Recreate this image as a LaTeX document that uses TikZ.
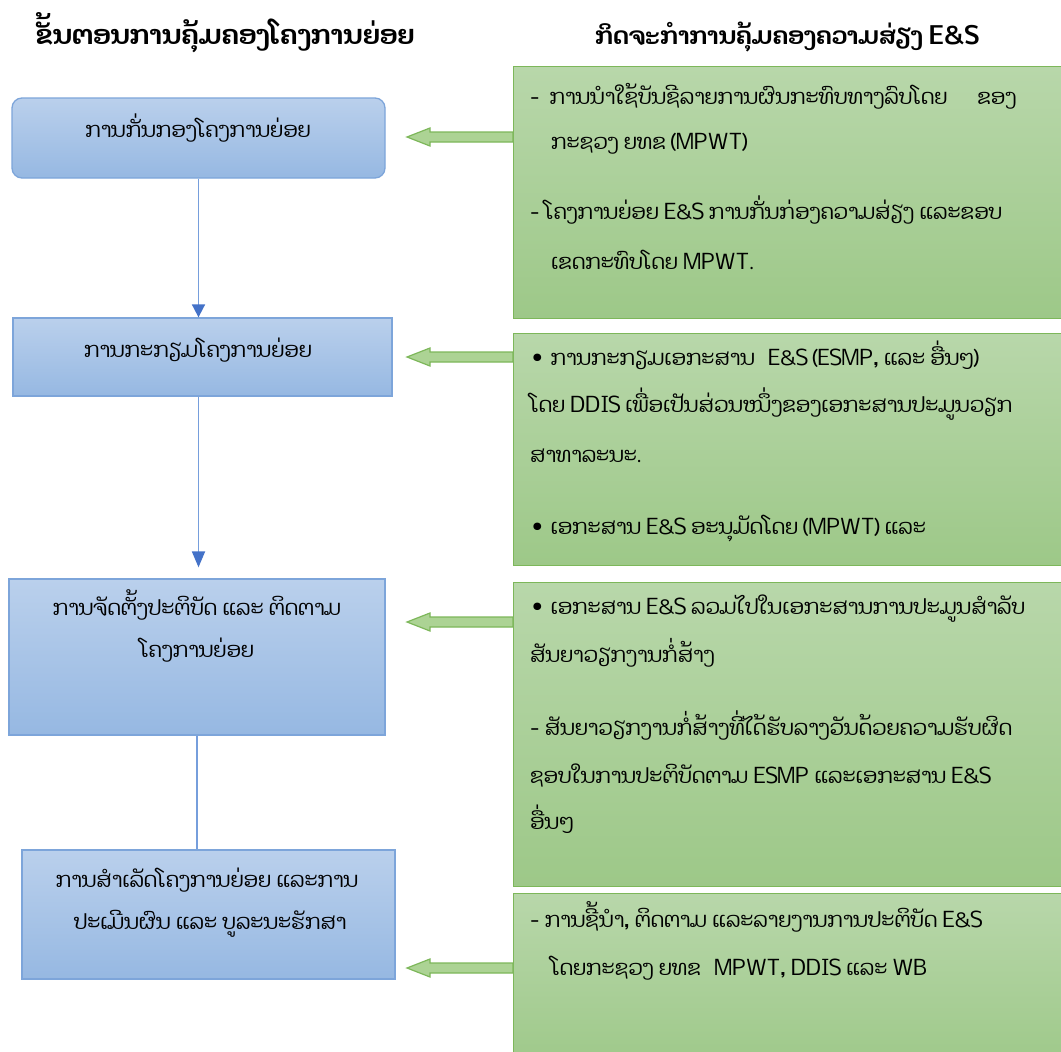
\documentclass[tikz,border=0pt]{standalone}
\usepackage{fontspec}
\newfontfamily\laofont[Script=Lao]{Dhyana}
\usetikzlibrary{arrows.meta,calc}
\definecolor{bluetop}{RGB}{186,208,236}
\definecolor{bluebot}{RGB}{150,184,226}
\definecolor{bluebd}{RGB}{125,165,218}
\definecolor{greentop}{RGB}{184,215,170}
\definecolor{greenbot}{RGB}{157,200,136}
\definecolor{greenbd}{RGB}{125,183,90}
\definecolor{arrfill}{RGB}{172,211,148}
\definecolor{linkblue}{RGB}{118,158,220}
\definecolor{tipblue}{RGB}{68,114,200}
\tikzset{
  bluebox/.style={draw=bluebd, line width=1.3pt, top color=bluetop, bottom color=bluebot, inner sep=0pt},
  greenbox/.style={draw=greenbd, line width=1.3pt, top color=greentop, bottom color=greenbot},
  body/.style={inner sep=0pt, font=\laofont\fontsize{21}{47}\selectfont},
  headtxt/.style={inner sep=0pt, font=\laofont\bfseries\fontsize{25}{30}\selectfont},
  link/.style={draw=linkblue, line width=1.8pt},
  garrow/.style={draw=greenbd, fill=arrfill, line width=1.2pt, line join=miter},
}
\begin{document}
\begin{tikzpicture}[x=1pt,y=-1pt]
\useasboundingbox (0,0) rectangle (1061,1052);
\fill[white] (0,0) rectangle (1061,1052);
% headers
\node[headtxt, anchor=base west, font=\laofont\bfseries\fontsize{26.5}{30}\selectfont] (h1) at (35,45) {ຂັ້ນຕອນການຄຸ້ມຄອງໂຄງການຍ່ອຍ};
\node[headtxt, anchor=base west, font=\laofont\bfseries\fontsize{24}{30}\selectfont] (h2) at (595,45) {ກິດຈະກໍາການຄຸ້ມຄອງຄວາມສ່ຽງ E\&S};
% blue boxes
\node[bluebox, rounded corners=10pt, minimum width=373pt, minimum height=80pt] (b1) at (198.5,138) {};
\node[bluebox, minimum width=379pt, minimum height=78pt] (b2) at (202.5,357) {};
\node[bluebox, minimum width=376pt, minimum height=156pt] (b3) at (197,657) {};
\node[bluebox, minimum width=373pt, minimum height=129pt] (b4) at (208.5,914.5) {};
\node[body, anchor=base] (t1) at (198,137) {ການກັ່ນກອງໂຄງການຍ່ອຍ};
\node[body, anchor=base] (t2) at (198,357) {ການກະກຽມໂຄງການຍ່ອຍ};
\node[body, anchor=base] (t3a) at (197,615) {ການຈັດຕັ້ງປະຕິບັດ ແລະ ຕິດຕາມ};
\node[body, anchor=base] (t3b) at (197,657) {ໂຄງການຍ່ອຍ};
\node[body, anchor=base] (t4a) at (207,887) {ການສໍາເລັດໂຄງການຍ່ອຍ ແລະການ};
\node[body, anchor=base] (t4b) at (210,929) {ປະເມີນຜົນ ແລະ ບູລະນະຮັກສາ};
% connectors
\draw[link, -{Triangle[width=13pt,length=13pt,fill=tipblue,color=tipblue]}] (b1.south) -- (b1.south |- b2.north);
\draw[link, -{Triangle[width=13pt,length=16pt,fill=tipblue,color=tipblue]}, shorten >=11pt] (b2.south -| b1.south) -- (b1.south |- b3.north);
\draw[link] (b3.south) -- (b3.south |- b4.north);
% green boxes
\node[greenbox, anchor=north west, minimum width=560pt, minimum height=252pt] (g1) at (513,66) {};
\node[greenbox, anchor=north west, minimum width=560pt, minimum height=232pt] (g2) at (513,333) {};
\node[greenbox, anchor=north west, minimum width=560pt, minimum height=304pt] (g3) at (513,582) {};
\node[greenbox, anchor=north west, minimum width=560pt, minimum height=180pt] (g4) at (513,893) {};
% green arrows
\foreach \g/\yy in {g1/137, g2/357, g3/622, g4/968}{
  \draw[garrow] (\g.west |- 0,\yy) ++(0,-5) -- ++(-83,0) -- ++(0,-4) -- ++(-23,9) -- ++(23,9) -- ++(0,-4) -- ++(83,0) -- cycle;
}
% green text
\node[body, anchor=base west] (g1a) at (530,104) {-\hspace{10pt}ການນໍາໃຊ້ບັນຊີລາຍການຜົນກະທົບທາງລົບໂດຍ\hspace{30pt}ຂອງ};
\node[body, anchor=base west] (g1b) at (551,149) {ກະຊວງ ຍທຂ (MPWT)};
\node[body, anchor=base west] (g1c) at (530,219) {- ໂຄງການຍ່ອຍ E\&S ການກັ່ນກ່ອງຄວາມສ່ຽງ ແລະຂອບ};
\node[body, anchor=base west] (g1d) at (551,269) {ເຂດກະທົບໂດຍ MPWT.};
\node[body, anchor=base west] (g2a) at (530,365) {• ການກະກຽມເອກະສານ\hspace{8pt} E\&S (ESMP, ແລະ ອື່ນໆ)};
\node[body, anchor=base west] (g2b) at (530,412) {ໂດຍ DDIS ເພື່ອເປັນສ່ວນໜຶ່ງຂອງເອກະສານປະມູນວຽກ};
\node[body, anchor=base west] (g2c) at (530,462) {ສາທາລະນະ.};
\node[body, anchor=base west] (g2d) at (530,534) {• ເອກະສານ E\&S ອະນຸມັດໂດຍ (MPWT) ແລະ};
\node[body, anchor=base west] (g3a) at (530,614) {• ເອກະສານ E\&S ລວມໄປໃນເອກະສານການປະມູນສໍາລັບ};
\node[body, anchor=base west] (g3b) at (530,662) {ສັນຍາວຽກງານກໍ່ສ້າງ};
\node[body, anchor=base west] (g3c) at (530,735) {- ສັນຍາວຽກງານກໍ່ສ້າງທີ່ໄດ້ຮັບລາງວັນດ້ວຍຄວາມຮັບຜິດ};
\node[body, anchor=base west] (g3d) at (530,783) {ຊອບໃນການປະຕິບັດຕາມ ESMP ແລະເອກະສານ E\&S};
\node[body, anchor=base west] (g3e) at (530,829) {ອື່ນໆ};
\node[body, anchor=base west] (g4a) at (530,927) {- ການຊີ້ນໍາ, ຕິດຕາມ ແລະລາຍງານການປະຕິບັດ E\&S};
\node[body, anchor=base west] (g4b) at (551,975) {ໂດຍກະຊວງ ຍທຂ\hspace{8pt} MPWT, DDIS ແລະ WB};
\end{tikzpicture}
\end{document}
